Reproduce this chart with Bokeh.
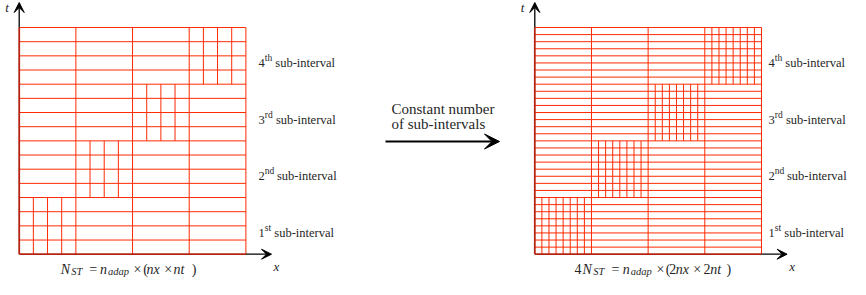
from bokeh.plotting import figure
from bokeh.models import Range1d, Arrow, VeeHead
from bokeh.core.properties import value
from bokeh.embed import file_html
from bokeh.resources import INLINE

# ---------------- data ----------------
n_sub = 4                 # number of time sub-intervals
n_coarse = 4              # coarse space cells
panel_rows = [4, 8]       # time rows per sub-interval (left, right panel)
panel_fine = [4, 8]       # refined space cells per coarse cell in the adapted block
ord_num = ["1", "2", "3", "4"]
ord_sup = ["st", "nd", "rd", "th"]
label_word = "sub-interval"
middle_lines = ["Constant number", "of sub-intervals"]

# formula pieces: text, style, is-subscript
formula_left_txt = ["N", "ST", "=", "n", "adap", "×", "(", "nx", "×", "nt", ")"]
formula_left_sty = ["italic", "italic", "normal", "italic", "italic", "normal", "normal", "italic", "normal", "italic", "normal"]
formula_left_sub = [0, 1, 0, 0, 1, 0, 0, 0, 0, 0, 0]
formula_right_txt = ["4", "N", "ST", "=", "n", "adap", "×", "(", "2", "nx", "×", "2", "nt", ")"]
formula_right_sty = ["normal", "italic", "italic", "normal", "italic", "italic", "normal", "normal", "normal", "italic", "normal", "normal", "italic", "normal"]
formula_right_sub = [0, 0, 1, 0, 0, 1, 0, 0, 0, 0, 0, 0, 0, 0]

# ---------------- layout ----------------
S = 56.67                    # px per coarse cell
GX0, GY0 = 26.7, 261.7       # page px of the left grid origin
PANEL_SHIFT = 515.6          # px between the two panels

def ux(px):
    return (px - GX0) / S

def uy(py):
    return (GY0 - py) / S

# piece positions in page px (layout)
formula_left_px = [68.3, 78.7, 96.7, 107.5, 115.5, 141, 150.7, 154, 171.7, 181, 199.3]
formula_right_px = [582, 590, 600.7, 619, 630.2, 638.2, 664, 673.3, 676.7, 683.3, 700.7, 711, 717.7, 734]
sup_w = [6.0, 8.6, 7.6, 7.0]
label_px = [266, 776]

W, H = 850, 279
p = figure(width=W, height=H, output_backend="svg", toolbar_location=None,
           x_range=Range1d(ux(8), ux(8 + W)), y_range=Range1d(uy(8 + H), uy(8)),
           min_border=0)
p.axis.visible = False
p.grid.visible = False
p.outline_line_color = None
p.background_fill_color = "white"

RED = "#ff2a00"
EDGE = "#b52410"
TXT = "#262626"
FONT = value("Liberation Serif")

def txt(xs, ys, texts, size, style="normal", align="left", baseline="alphabetic", xo=0, yo=0):
    p.text(x=xs, y=ys, text=texts, text_font=FONT, text_font_size=value(f"{size}px"),
           text_font_style=style, text_align=align, text_baseline=baseline,
           x_offset=xo, y_offset=yo, text_color=TXT)

for i in range(2):
    ox = PANEL_SHIFT * i / S
    rows = panel_rows[i]
    f = panel_fine[i]
    x0, y0, x1, y1 = [], [], [], []
    for r in range(1, n_sub * rows + 1):
        t = r / rows
        x0.append(ox); x1.append(ox + n_coarse); y0.append(t); y1.append(t)
    for c in range(1, n_coarse + 1):
        x0.append(ox + c); x1.append(ox + c); y0.append(0); y1.append(n_sub)
    for k in range(n_sub):
        for j in range(1, f):
            xx = ox + k + j / f
            x0.append(xx); x1.append(xx); y0.append(k); y1.append(k + 1)
    p.segment(x0=x0, y0=y0, x1=x1, y1=y1, line_color=RED, line_width=1)
    # dark left / bottom edges
    p.segment(x0=[ox, ox], y0=[0, 0], x1=[ox, ox + n_coarse], y1=[n_sub, 0],
              line_color=EDGE, line_width=1.8)
    # axis arrows
    p.add_layout(Arrow(x_start=ox, y_start=n_sub, x_end=ox, y_end=uy(10),
                       line_color="black", line_width=1.3,
                       end=VeeHead(size=10, fill_color="black", line_color="black")))
    p.add_layout(Arrow(x_start=ox + n_coarse, y_start=0, x_end=ox + ux(279), y_end=0,
                       line_color="black", line_width=1.3,
                       end=VeeHead(size=10, fill_color="black", line_color="black")))
    # axis names
    txt([ox + ux(14.5)], [uy(15)], ["t"], 13, "italic", "center", "middle")
    txt([ox + ux(284)], [uy(274)], ["x"], 13, "italic", "center", "middle")
    # sub-interval labels
    lx = ux(label_px[i])
    mids = [k + 0.5 for k in range(n_sub)]
    txt([lx] * n_sub, mids, ord_num, 12.5, yo=7)
    txt([lx] * n_sub, mids, ord_sup, 9.5, xo=6.3, yo=2.0)
    for k in range(n_sub):
        txt([lx], [mids[k]], [label_word], 12.5, xo=6.3 + sup_w[k] + 3.5, yo=7)

# formulas
base = uy(276.5)
for texts, stys, subs, pxs in [(formula_left_txt, formula_left_sty, formula_left_sub, formula_left_px),
                               (formula_right_txt, formula_right_sty, formula_right_sub, formula_right_px)]:
    for t, s, sb, px in zip(texts, stys, subs, pxs):
        txt([ux(px)], [base], [t], 10.5 if sb else 14, s, yo=2.5 if sb else 0)

# middle note and arrow
txt([ux(399), ux(399)], [uy(116), uy(131.7)], middle_lines, 15)
p.add_layout(Arrow(x_start=ux(393), y_start=uy(149), x_end=ux(507), y_end=uy(149),
                   line_color="black", line_width=2.2,
                   end=VeeHead(size=15, fill_color="black", line_color="black")))

open("out.html", "w").write(file_html(p, INLINE))
